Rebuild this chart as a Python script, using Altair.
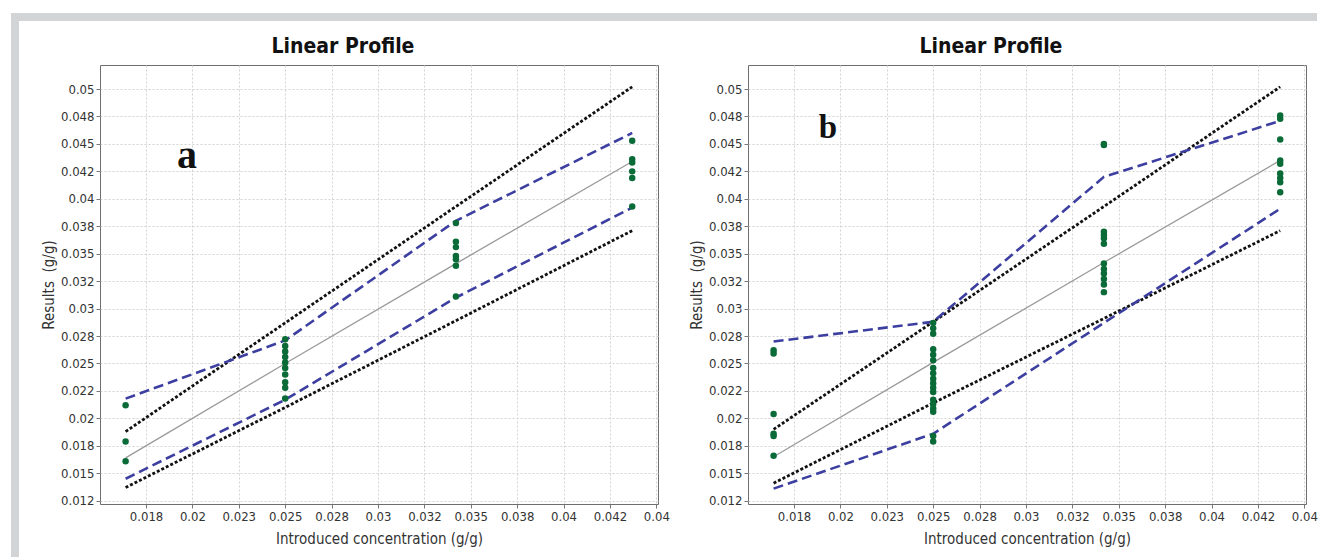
import json
import altair as alt
import pandas as pd

# ---------------- data ----------------
conc = [0.0164, 0.0250, 0.0342, 0.0437]

# panel a lines
a_center = [0.0164, 0.0250, 0.0341, 0.0434]
a_tol_hi = [0.0218, 0.0271, 0.0380, 0.0460]
a_tol_lo = [0.0145, 0.0217, 0.0310, 0.0392]
a_acc_hi = [0.0188, 0.0287, 0.0393, 0.0502]
a_acc_lo = [0.0137, 0.0210, 0.0289, 0.0371]

# panel a results (one list per concentration level)
a_lvl1 = [0.0212, 0.0179, 0.0161]
a_lvl2 = [0.0272, 0.0266, 0.0261, 0.0256, 0.0251, 0.0246, 0.0240, 0.0233, 0.0228, 0.0218]
a_lvl3 = [0.0378, 0.0361, 0.0356, 0.0348, 0.0345, 0.0339, 0.0311]
a_lvl4 = [0.0453, 0.0436, 0.0433, 0.0425, 0.0419, 0.0393]

# panel b lines
b_center = [0.0165, 0.0251, 0.0342, 0.0435]
b_tol_hi = [0.0270, 0.0288, 0.0420, 0.0471]
b_tol_lo = [0.0136, 0.0186, 0.0287, 0.0391]
b_acc_hi = [0.0190, 0.0288, 0.0393, 0.0502]
b_acc_lo = [0.0141, 0.0214, 0.0291, 0.0371]

# panel b results
b_lvl1 = [0.0262, 0.0259, 0.0204, 0.0186, 0.0184, 0.0166]
b_lvl2 = [0.0287, 0.0282, 0.0277, 0.0263, 0.0258, 0.0253, 0.0246, 0.0241, 0.0236,
          0.0232, 0.0228, 0.0224, 0.0217, 0.0213, 0.0209, 0.0206, 0.0184, 0.0179]
b_lvl3 = [0.0450, 0.0449, 0.0370, 0.0367, 0.0364, 0.0359, 0.0341, 0.0336, 0.0332,
          0.0327, 0.0322, 0.0315]
b_lvl4 = [0.0476, 0.0473, 0.0454, 0.0435, 0.0432, 0.0423, 0.0419, 0.0415, 0.0406]

# axis ticks and their (rounded) labels as printed
x_ticks = [0.0175, 0.02, 0.0225, 0.025, 0.0275, 0.03, 0.0325, 0.035, 0.0375, 0.04, 0.0425, 0.045]
x_labels = ["0.018", "0.02", "0.023", "0.025", "0.028", "0.03", "0.032", "0.035",
            "0.038", "0.04", "0.042", "0.04"]
y_ticks = [0.0125, 0.015, 0.0175, 0.02, 0.0225, 0.025, 0.0275, 0.03, 0.0325, 0.035,
           0.0375, 0.04, 0.0425, 0.045, 0.0475, 0.05]
y_labels = ["0.012", "0.015", "0.018", "0.02", "0.022", "0.025", "0.028", "0.03",
            "0.032", "0.035", "0.038", "0.04", "0.042", "0.045", "0.048", "0.05"]

x_domain = [0.01502, 0.04509]
y_domain = [0.0122, 0.05219]

panel_letters = ["a", "b"]
letter_x = [0.01971, 0.01933]
letter_y = [0.04281, 0.04554]

# ---------------- styling ----------------
F = "DejaVu Sans Condensed, DejaVu Sans"
W, H = 558, 439
GREEN = "#0a6b38"
BLUE = "#3c3fa0"
FRAME = "#d3d4d6"

x_expr = json.dumps(x_labels) + "[round((datum.value - 0.0175) / 0.0025)]"
y_expr = json.dumps(y_labels) + "[round((datum.value - 0.0125) / 0.0025)]"

common_axis = dict(grid=True, gridColor="#d2d2d2", gridDash=[2, 2], gridWidth=1,
                   domain=False, ticks=True, tickColor="#777777", tickSize=4,
                   labelFont=F, labelFontSize=13, labelColor="#333333", labelPadding=2,
                   labelFlush=False, labelOverlap=False,
                   titleFont=F, titleFontSize=15, titleFontWeight="normal",
                   titleColor="#333333", titleBaseline="alphabetic")

xenc = alt.X("x:Q", scale=alt.Scale(domain=x_domain, nice=False, zero=False),
             axis=alt.Axis(values=x_ticks, labelExpr=x_expr,
                           title="Introduced concentration (g/g)", titleY=39,
                           **common_axis))
yenc = alt.Y("y:Q", scale=alt.Scale(domain=y_domain, nice=False, zero=False),
             axis=alt.Axis(values=y_ticks, labelExpr=y_expr,
                           title="Results\u00a0 (g/g)", titleX=-47,
                           **common_axis))


def pair_df(hi, lo):
    return pd.DataFrame({"x": conc + conc, "y": hi + lo,
                         "s": ["hi"] * len(conc) + ["lo"] * len(conc)})


def points_df(levels):
    xs, ys = [], []
    for cx, vals in zip(conc, levels):
        xs += [cx] * len(vals)
        ys += vals
    return pd.DataFrame({"x": xs, "y": ys})


def frame_rect(x1, x2, y1, y2):
    return alt.Chart(alt.Data(values=[{}])).mark_rect(color=FRAME).encode(
        x=alt.value(x1), x2=alt.value(x2), y=alt.value(y1), y2=alt.value(y2))


def panel(center, tol_hi, tol_lo, acc_hi, acc_lo, levels, idx, frames):
    center_df = pd.DataFrame({"x": conc, "y": center})
    gray = alt.Chart(center_df).mark_line(color="#9a9a9a", strokeWidth=1.3).encode(x=xenc, y=yenc)
    black = alt.Chart(pair_df(acc_hi, acc_lo)).mark_line(
        color="#111111", strokeWidth=2.8, strokeDash=[3, 2]).encode(x=xenc, y=yenc, detail="s:N")
    blue = alt.Chart(pair_df(tol_hi, tol_lo)).mark_line(
        color=BLUE, strokeWidth=2.6, strokeDash=[10, 5]).encode(x=xenc, y=yenc, detail="s:N")
    pts = alt.Chart(points_df(levels)).mark_circle(size=42, color=GREEN, opacity=1).encode(x=xenc, y=yenc)
    letter_df = pd.DataFrame({"x": [letter_x[idx]], "y": [letter_y[idx]], "t": [panel_letters[idx]]})
    letter = alt.Chart(letter_df).mark_text(
        font="Liberation Serif", fontWeight="bold", fontSize=40 if idx == 0 else 33,
        align="center", baseline="alphabetic", color="#111111").encode(x=xenc, y=yenc, text="t:N")
    layers = frames + [gray, black, blue, pts, letter]
    return alt.layer(*layers).properties(
        width=W, height=H,
        title=alt.TitleParams("Linear Profile", font=F, fontSize=21, fontWeight="bold",
                              color="#111111", anchor="middle", frame="group",
                              offset=0, dx=-36, dy=61, baseline="alphabetic"))


# decorative grey frame of the figure (pixel offsets from each plot's corner)
frames_a = [frame_rect(-89, -81, -52, 492), frame_rect(-89, 601, -52, -44)]
frames_b = [frame_rect(-47, 569, -52, -44)]

pa = panel(a_center, a_tol_hi, a_tol_lo, a_acc_hi, a_acc_lo,
           [a_lvl1, a_lvl2, a_lvl3, a_lvl4], 0, frames_a)
pb = panel(b_center, b_tol_hi, b_tol_lo, b_acc_hi, b_acc_lo,
           [b_lvl1, b_lvl2, b_lvl3, b_lvl4], 1, frames_b)

chart = alt.hconcat(pa, pb, spacing=90, bounds="flush").properties(
    padding={"left": 10, "top": 12, "right": 0, "bottom": 0}
).configure(background="white").configure_view(stroke="#6e6e6e", strokeWidth=1, fill="white")

chart.save("out.html", embed_options={"renderer": "svg", "actions": False})
